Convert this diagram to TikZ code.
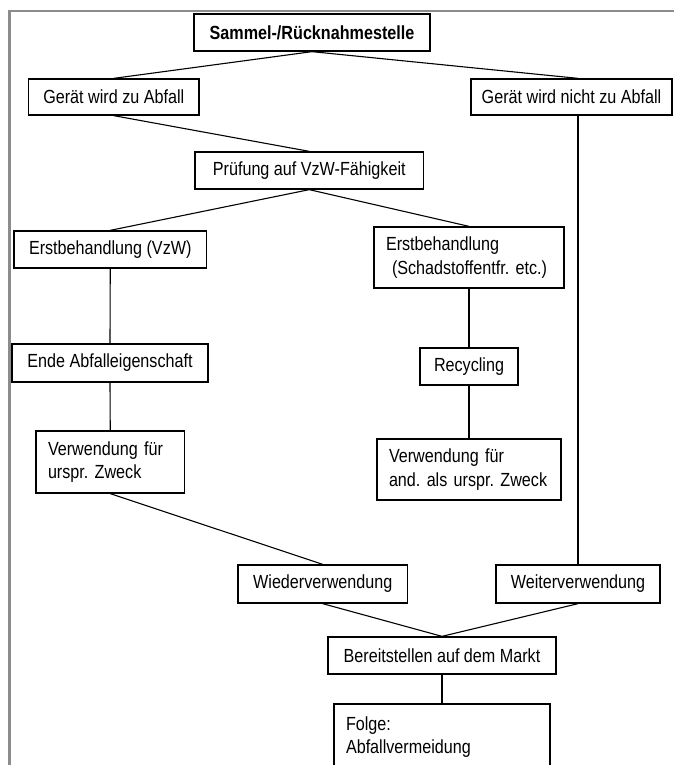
\documentclass[tikz,border=0pt]{standalone}
\usepackage{fontspec}
\setmainfont{Liberation Sans}[FakeStretch=0.85]
\frenchspacing
\begin{document}
\begin{tikzpicture}[x=1pt,y=-1pt,
  box/.style={draw=black, line width=1.3pt, inner sep=0pt, fill=white,
    font=\fontsize{19}{23.5}\selectfont, align=center},
  mbox/.style={box, inner xsep=12pt, align=left},
  conn/.style={draw=black, line width=1.1pt},
  frameline/.style={draw=black!45, line width=2.2pt}]
\useasboundingbox (0,0) rectangle (674,765);
\clip (0,0) rectangle (674,765);
\fill[white] (0,0) rectangle (674,765);
% frame
\draw[frameline] (9.5,781) -- (9.5,11) -- (690,11);
% nodes
\node[box, minimum width=236pt, minimum height=37pt, font=\fontsize{19}{23.5}\selectfont\bfseries] (sammel) at (312,32.5) {Sammel-/Rücknahmestelle};
\node[box, minimum width=170.5pt, minimum height=36pt] (gza) at (113.75,97) {Gerät wird zu Abfall};
\node[box, minimum width=201pt, minimum height=36pt] (gnz) at (571.5,97) {Gerät wird nicht zu Abfall};
\node[box, minimum width=228.5pt, minimum height=37pt] (pruef) at (309.25,170.5) {Prüfung auf VzW-Fähigkeit};
\node[box, minimum width=192.5pt, minimum height=37pt] (ebv) at (110.25,249.5) {Erstbehandlung (VzW)};
\node[mbox, text width=166pt, minimum height=61pt] (ebs) at (469,257.5) {Erstbehandlung\\\hspace*{6pt}(Schadstoffentfr. etc.)};
\node[box, minimum width=196pt, minimum height=38pt] (ende) at (110,363) {Ende Abfalleigenschaft};
\node[box, minimum width=98pt, minimum height=37pt] (recyc) at (469,366.5) {Recycling};
\node[mbox, text width=124.5pt, minimum height=62pt] (vwu) at (110.25,462) {Verwendung für\\urspr. Zweck};
\node[mbox, text width=160pt, minimum height=61pt] (vwa) at (469,469.5) {Verwendung für\\and. als urspr. Zweck};
\node[box, minimum width=169.5pt, minimum height=38pt] (wieder) at (322.75,584) {Wiederverwendung};
\node[box, minimum width=164pt, minimum height=38pt] (weiter) at (578,584) {Weiterverwendung};
\node[box, minimum width=228pt, minimum height=37pt] (bereit) at (442,655.5) {Bereitstellen auf dem Markt};
\node[mbox, text width=192pt, minimum height=66pt] (folge) at (442,737) {Folge:\\Abfallvermeidung};
% connectors
\draw[conn] (sammel.south) -- (gza.north);
\draw[conn] (sammel.south) -- (gnz.north -| weiter.north);
\draw[conn] (gza.south) -- (pruef.north);
\draw[conn] (pruef.south) -- (ebv.north);
\draw[conn] (pruef.south) -- (ebs.north);
\draw[conn] (ebv.south) -- (ende.north);
\draw[conn] (ende.south) -- (vwu.north);
\draw[conn] (ebs.south) -- (recyc.north);
\draw[conn] (recyc.south) -- (vwa.north);
\draw[conn] (vwu.south) -- (wieder.north);
\draw[conn] (weiter.north) -- (weiter.north |- gnz.south);
\draw[conn] (wieder.south) -- (bereit.north);
\draw[conn] (weiter.south) -- (bereit.north);
\draw[conn] (bereit.south) -- (folge.north);
\end{tikzpicture}
\end{document}
